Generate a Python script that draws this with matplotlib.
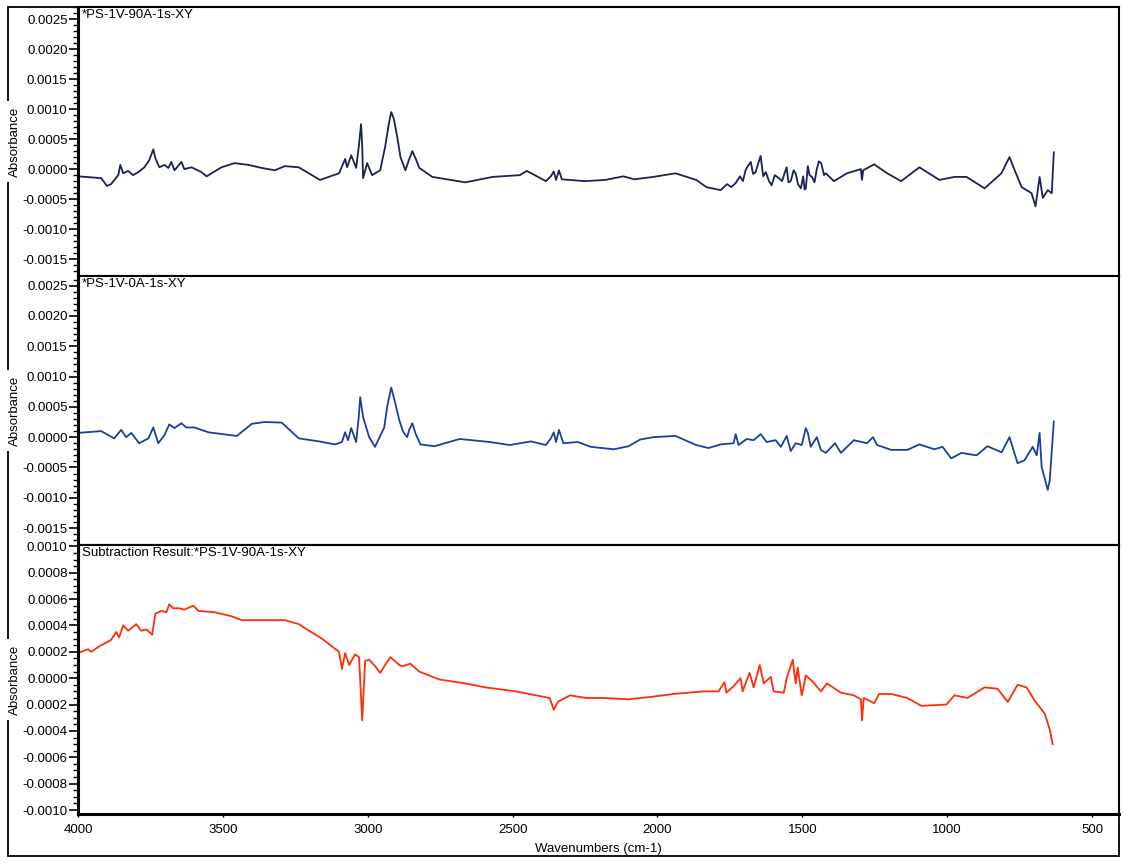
import matplotlib
matplotlib.use("Agg")
import matplotlib.pyplot as plt
from matplotlib.ticker import MultipleLocator, AutoMinorLocator, FormatStrFormatter
from matplotlib.patches import Rectangle

plt.rcParams['font.family'] = ['Liberation Sans', 'DejaVu Sans']

# top spectrum: *PS-1V-90A-1s-XY
wn_90a = [4000, 3920, 3900, 3886, 3861, 3854, 3844, 3827, 3810, 3792, 3771, 3754, 3740, 3733,
          3719, 3702, 3688, 3678, 3667, 3643, 3633, 3608, 3574, 3556, 3505, 3460, 3411, 3366,
          3321, 3286, 3238, 3165, 3099, 3078, 3071, 3057, 3040, 3031, 3023, 3019, 3016, 3002,
          2985, 2957, 2940, 2927, 2919, 2910, 2898, 2887, 2870, 2858, 2846, 2835, 2822, 2777,
          2663, 2569, 2475, 2451, 2385, 2368, 2358,
          2350, 2340, 2330, 2250, 2180, 2118, 2080, 2015, 1938, 1866, 1831, 1782, 1760, 1745,
          1730, 1715, 1705, 1696, 1688, 1678, 1670, 1661, 1652, 1644, 1635, 1626, 1615, 1606,
          1595, 1581, 1570, 1560, 1554, 1548, 1540, 1530, 1523, 1515, 1505, 1497, 1492, 1488,
          1481, 1475, 1467, 1458, 1450, 1443, 1435, 1425, 1419, 1391, 1346, 1298, 1294, 1290,
          1252, 1207, 1159, 1096, 1027, 975, 933, 871, 813, 785, 767, 743, 709, 695, 681, 670,
          653, 639, 632]
abs_90a = [-0.00012, -0.00015, -0.00028, -0.00025, -0.0001, 0.00007, -0.00007, -0.00003, -0.0001,
           -0.00005, 0.00003, 0.00015, 0.00033, 0.00018, 0.00003, 0.00007, 0.00002, 0.00012,
           -0.00002, 0.00012, 0.0, 0.00003, -0.00005, -0.00012, 0.00003, 0.0001, 0.00007, 0.00002,
           -0.00002, 0.00005, 0.00003, -0.00018, -0.00007, 0.00017, 0.00003, 0.00023, 0.00002,
           0.00037, 0.00075, 0.00037, -0.00015, 0.0001,
           -0.0001, -0.00002, 0.00037, 0.00076, 0.00095, 0.00084, 0.00053, 0.0002, -0.00002,
           0.00015, 0.0003, 0.00018, 0.00002, -0.00013,
           -0.00022, -0.00013, -0.0001, -0.00003, -0.0002, -0.00012, -0.00004,
           -0.00018, -0.00002, -0.00017, -0.0002, -0.00018, -0.00012, -0.00017,
           -0.00013, -0.00007, -0.00018, -0.0003, -0.00035, -0.00025, -0.0003, -0.00023,
           -0.00012, -0.0002, -0.00002, 0.00005, 0.00012, -0.00008, -0.00005, 0.0001, 0.00022,
           -0.00012, -0.00005, -0.0002, -0.00027, -0.0001, -0.00015, -0.0002, -0.00005, 0.00003,
           -0.00022, -0.0002, -0.00002, -0.00007, -0.00025, -0.00032, -0.00012, -0.00034,
           -0.00032, 0.00005, -0.0001, -0.00013, -0.00022, 0.0, 0.00013, 0.0001, -0.0001,
           -0.00007, -0.0002, -0.00007, 0.0, -0.00018, -0.00002, 0.00008, -0.00007, -0.0002,
           0.00003, -0.00018, -0.00013, -0.00013, -0.00032, -0.00007, 0.0002, -0.00002, -0.0003,
           -0.0004, -0.00062, -0.00013, -0.00048, -0.00035, -0.0004, 0.00028]

# middle spectrum: *PS-1V-0A-1s-XY
wn_0a = [4000, 3920, 3875, 3851, 3834, 3816, 3789, 3757, 3740, 3723, 3702, 3685, 3667, 3643,
         3626, 3598, 3550, 3452, 3400, 3356, 3297, 3238, 3168, 3113, 3089, 3078, 3068, 3057,
         3040, 3031, 3026, 3016, 2995, 2975, 2943, 2933, 2919, 2907, 2891, 2878, 2864, 2857,
         2846, 2835, 2818, 2770, 2683, 2579,
         2510, 2437, 2385, 2368, 2358, 2350, 2340, 2325, 2275, 2230, 2150, 2100, 2060, 2015,
         1938, 1866, 1824, 1782, 1737, 1730, 1720, 1692, 1668, 1644, 1623, 1592, 1574, 1554,
         1540, 1523, 1502, 1488, 1481, 1471, 1450, 1436, 1419, 1387, 1367, 1322, 1277, 1256,
         1242, 1193, 1138, 1096, 1044, 1016, 986, 951, 899, 861, 812, 785, 757, 733, 705, 691,
         681, 674, 653, 646, 632]
abs_0a = [0.00007, 0.0001, -0.00002, 0.00012, 0.0, 0.00007, -0.0001, -0.00002, 0.00016, -0.0001,
          0.00003, 0.00021, 0.00015, 0.00023, 0.00016, 0.00016, 0.00008, 0.00002, 0.00022,
          0.00025, 0.00024, -0.00002, -0.00007, -0.00012, -0.00008, 0.00008, -0.00005, 0.00015,
          -0.00008, 0.00033, 0.00066, 0.00033, 0.0, -0.00016, 0.00016, 0.0005, 0.00082, 0.0006,
          0.00028, 0.00009, 0.0, 0.00012, 0.00023, 0.00006,
          -0.00012, -0.00015, -0.00003, -0.00008, -0.00013, -0.00007, -0.00013, -0.00002,
          0.00008, -0.00008, 0.00012, -0.0001, -0.00008, -0.00016, -0.0002, -0.00015, -0.00004,
          0.0, 0.00002, -0.00013, -0.00018, -0.00012, -0.0001, 0.00005, -0.00013, -0.00003,
          -0.00005, 0.00005, -0.00008, -0.00005, -0.00016, 0.00002, -0.00023, -0.0001, -0.00013,
          0.00015, 0.00007, -0.00016, 0.0, -0.00021, -0.00026, -0.0001, -0.00026, -0.00005,
          -0.0001, 0.0, -0.00013, -0.00021, -0.00021, -0.00012, -0.0002, -0.00016, -0.00035,
          -0.00026, -0.0003, -0.00015, -0.00025, 0.0, -0.00043, -0.00038, -0.00016, -0.0003,
          0.00007, -0.00049, -0.00087, -0.00071, 0.00026]

# bottom spectrum: subtraction result
wn_sub = [4000, 3965, 3955, 3920, 3886, 3868, 3858, 3844, 3827, 3799, 3782, 3764, 3744, 3733,
          3712, 3695, 3685, 3671, 3650, 3633, 3602, 3584, 3529, 3470, 3435, 3366, 3286, 3238,
          3203, 3158, 3123, 3099, 3089, 3078, 3064, 3044, 3030, 3019, 3009, 2995, 2974, 2957,
          2940, 2922, 2891, 2881, 2853, 2822, 2753, 2663, 2593, 2489, 2420, 2372, 2358, 2344,
          2302, 2247, 2188, 2100, 2015, 1945, 1841, 1789, 1769, 1762, 1737, 1713, 1706, 1682,
          1668, 1647, 1633, 1609, 1599, 1564, 1554, 1533, 1523, 1516, 1502, 1488, 1467, 1436,
          1415, 1367, 1322, 1298, 1294, 1288, 1252, 1235, 1193, 1138, 1089, 1003, 975, 930, 871,
          826, 791, 757, 726, 698, 663, 646, 636]
abs_sub = [0.00019, 0.00022, 0.0002, 0.00025, 0.00029, 0.00035, 0.00031, 0.0004, 0.00036,
           0.00041, 0.00036, 0.00037, 0.00033, 0.00049, 0.00051, 0.0005, 0.00056, 0.00053,
           0.00053, 0.00052, 0.00055, 0.00051, 0.0005, 0.00047, 0.00044, 0.00044, 0.00044,
           0.00041, 0.00036, 0.0003, 0.00024, 0.0002, 0.00007, 0.00019, 0.0001, 0.00018, 0.00016,
           -0.00032, 0.00013, 0.00014, 0.00009, 0.00004, 0.0001, 0.00016, 0.0001, 0.00009,
           0.00011, 0.00005, -0.00001, -0.00004, -0.00007, -0.0001, -0.00013, -0.00015, -0.00024,
           -0.00018, -0.00013, -0.00015, -0.00015, -0.00016, -0.00014, -0.00012, -0.0001, -0.0001,
           -0.00003, -0.00011, -0.00006, 0.0, -0.0001, 0.00004, -0.00007, 0.0001, -0.00004,
           0.00001, -0.0001, -0.00011, 0.0, 0.00014, -0.00004, 0.00008, -0.00013, 0.00002,
           -0.00002, -0.0001, -0.00004, -0.00011, -0.00013, -0.00016, -0.00032, -0.00015,
           -0.00019, -0.00012, -0.00012, -0.00015, -0.00021, -0.0002, -0.00013, -0.00015,
           -0.00007, -0.00008, -0.00018, -0.00005, -0.00007, -0.00017, -0.00027, -0.00039, -0.0005]

titles = ['*PS-1V-90A-1s-XY', '*PS-1V-0A-1s-XY', 'Subtraction Result:*PS-1V-90A-1s-XY']
colors = ['#1b2255', '#1d3f9c', '#ff2d0a']
ylims = [(-0.00178, 0.0027), (-0.00178, 0.00266), (-0.00103, 0.00101)]
ymajor = [0.0005, 0.0005, 0.0002]
yminor = [5, 5, 4]
series = [(wn_90a, abs_90a), (wn_0a, abs_0a), (wn_sub, abs_sub)]

fig = plt.figure(figsize=(11.23, 8.67), dpi=100)
W, H = 1123.0, 867.0
left = 78 / W
width = (1119 - 78) / W
tops = [7, 276, 545]
ph = 269

axes = []
for i in range(3):
    bottom = 1 - (tops[i] + ph) / H
    ax = fig.add_axes([left, bottom, width, ph / H])
    axes.append(ax)
    x, y = series[i]
    ax.plot(x, y, color=colors[i], lw=1.3)
    ax.set_xlim(4000, 407)
    ax.set_ylim(*ylims[i])
    ax.yaxis.set_major_locator(MultipleLocator(ymajor[i]))
    ax.yaxis.set_minor_locator(AutoMinorLocator(yminor[i]))
    ax.yaxis.set_major_formatter(FormatStrFormatter('%.4f'))
    ax.tick_params(axis='y', which='major', direction='out', length=6.5, width=1.2,
                   pad=1, labelsize=9.5)
    ax.tick_params(axis='y', which='minor', direction='out', length=3.5, width=1.0)
    ax.tick_params(axis='y', which='both', right=False)
    for s in ax.spines.values():
        s.set_linewidth(1.5)
    ax.spines['left'].set_linewidth(2.2)
    ax.text(0.004, 0.992, titles[i], transform=ax.transAxes, ha='left', va='top', fontsize=9.5)
    fig.text(15 / W, 1 - (tops[i] + ph / 2) / H, 'Absorbance', rotation=90,
             ha='center', va='center', fontsize=9.5,
             bbox=dict(facecolor='white', edgecolor='none', pad=4))
    if i < 2:
        ax.tick_params(axis='x', which='both', bottom=False, labelbottom=False)
    else:
        ax.xaxis.set_major_locator(MultipleLocator(500))
        ax.tick_params(axis='x', direction='out', length=2.5, width=1.0, pad=5, labelsize=9.5)
        ax.spines['bottom'].set_linewidth(2.2)
        ax.set_xlabel('Wavenumbers (cm-1)', fontsize=9.5, labelpad=5)

# outer frame
fig.patches.append(Rectangle((8 / W, 1 - 856 / H), (1119 - 8) / W, (856 - 7) / H,
                             transform=fig.transFigure, fill=False, lw=1.3,
                             edgecolor='black', zorder=0))

fig.savefig('out.png', dpi=100)
